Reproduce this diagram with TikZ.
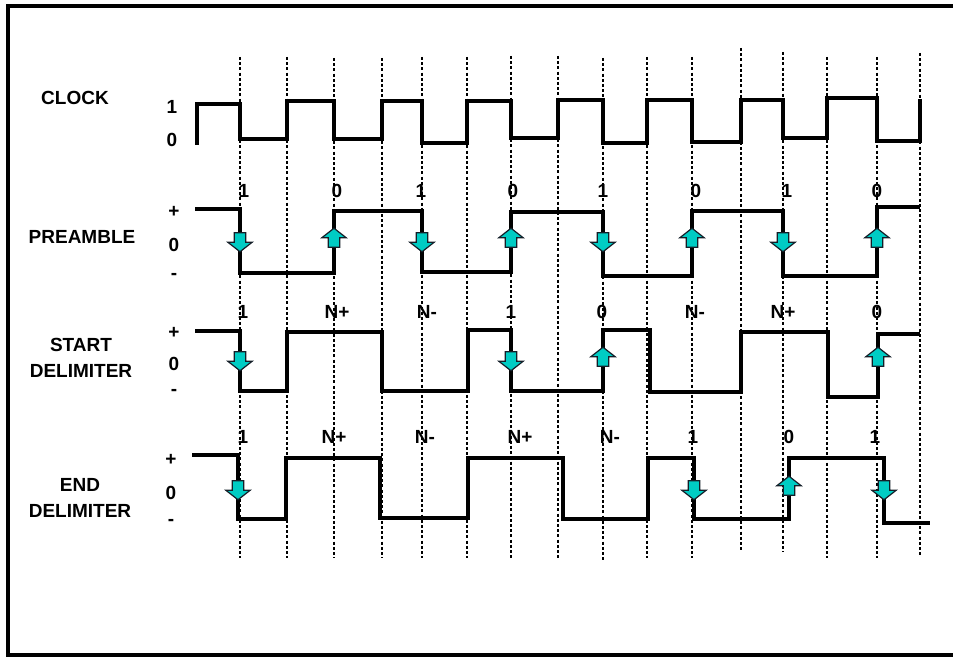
\documentclass[tikz,border=0pt]{standalone}
\usepackage{fontspec}
\setmainfont{Liberation Sans}
\definecolor{arrowteal}{RGB}{0,204,196}
\definecolor{edgegray}{RGB}{20,30,40}
\usetikzlibrary{shapes.arrows}

\begin{document}
\begin{tikzpicture}[x=0.5pt,y=-0.5pt,
    sig/.style={line width=1.8pt, line join=miter},
    tickline/.style={black, line width=0.65pt, dash pattern=on 1.5pt off 1.1pt},
    rowlabel/.style={font=\fontsize{9.5}{13}\selectfont\bfseries, align=center, inner sep=0pt},
    lvl/.style={font=\fontsize{9.5}{11}\selectfont\bfseries, inner sep=0pt},
    bit/.style={font=\fontsize{9.5}{11}\selectfont\bfseries, inner sep=0pt},
    flip/.style={single arrow, draw=edgegray, fill=arrowteal, line width=0.6pt,
        minimum height=9.5pt, minimum width=0pt, inner sep=2.6pt,
        single arrow head extend=3.2pt, single arrow tip angle=104,
        single arrow head indent=0pt}]
\useasboundingbox (0,0) rectangle (953,657);
\draw[line width=1.8pt] (953,6) -- (8,6) -- (8,655) -- (953,655);

% bit cell lines
\foreach \x/\t/\b in {240/57/558, 287/57/558, 334/58/558, 382/58/558, 422/57/558,
    467/57/558, 511/56/558, 558/56/558, 603/58/560, 647/57/558, 692/57/558,
    741/48/550, 783/52/552, 827/57/558, 877/57/558, 920/53/556}
  \draw[tickline] (\x,\t) -- (\x,\b);

% row names and levels
\node[rowlabel] (clock) at (75,98) {CLOCK};
\node[rowlabel] (preamble) at (82,237) {PREAMBLE};
\node[rowlabel] (startdel) at (81,358) {START\\DELIMITER};
\node[rowlabel] (enddel) at (80,498) {END\\DELIMITER};
\node[lvl] (clk1) at (172,107) {1};
\node[lvl] (clk0) at (172,140) {0};
\foreach \y/\s [count=\i] in {212/+, 245/0, 276/-} \node[lvl] (prelvl\i) at (174,\y) {\s};
\foreach \y/\s [count=\i] in {333/+, 364/0, 392/-} \node[lvl] (stlvl\i) at (174,\y) {\s};
\foreach \y/\s [count=\i] in {460/+, 493/0, 522/-} \node[lvl] (endlvl\i) at (171,\y) {\s};

% waveforms
\draw[sig] (197,145) -- (197,104) -- (240,104) -- (240,139) -- (287,139) -- (287,101)
  -- (334,101) -- (334,139) -- (382,139) -- (382,101) -- (422,101) -- (422,143)
  -- (467,143) -- (467,101) -- (511,101) -- (511,138) -- (558,138) -- (558,100)
  -- (603,100) -- (603,143) -- (647,143) -- (647,100) -- (692,100) -- (692,142)
  -- (741,142) -- (741,100) -- (783,100) -- (783,138) -- (827,138) -- (827,98)
  -- (877,98) -- (877,141) -- (920,141) -- (920,99);
\draw[sig] (195,209) -- (240,209) -- (240,273) -- (334,273) -- (334,211) -- (422,211)
  -- (422,272) -- (511,272) -- (511,212) -- (603,212) -- (603,276) -- (692,276)
  -- (692,211) -- (783,211) -- (783,276) -- (877,276) -- (877,207) -- (920,207);
\draw[sig] (195,331) -- (240,331) -- (240,391) -- (287,391) -- (287,332) -- (382,332)
  -- (382,391) -- (468,391) -- (468,330) -- (511,330) -- (511,391) -- (603,391)
  -- (603,330) -- (650,330) -- (650,392) -- (741,392) -- (741,332) -- (828,332)
  -- (828,397) -- (878,397) -- (878,334) -- (920,334);
\draw[sig] (192,455) -- (238,455) -- (238,519) -- (286,519) -- (286,458) -- (380,458)
  -- (380,518) -- (468,518) -- (468,458) -- (563,458) -- (563,519) -- (648,519)
  -- (648,458) -- (694,458) -- (694,519) -- (789,519) -- (789,458) -- (884,458)
  -- (884,523) -- (930,523);

% bit values
\foreach \x/\s in {244/1, 337/0, 421/1, 513/0, 603/1, 696/0, 787/1, 877/0}
  \node[bit] (prebit\x) at (\x,191) {\s};
\foreach \x/\s in {243/1, 337/N+, 427/N-, 511/1, 602/0, 695/N-, 783/N+, 877/0}
  \node[bit] (stbit\x) at (\x,312) {\s};
\foreach \x/\s in {243/1, 334/N+, 425/N-, 520/N+, 610/N-, 693/1, 789/0, 875/1}
  \node[bit] (endbit\x) at (\x,437) {\s};

% transition arrows
\foreach \x/\r in {240/270, 334/90, 422/270, 511/90, 603/270, 692/90, 783/270, 877/90}
  \node[flip, shape border rotate=\r] (prearr\x) at (\x,240) {};
\foreach \x/\r in {240/270, 511/270, 603/90, 878/90}
  \node[flip, shape border rotate=\r] (starr\x) at (\x,359) {};
\foreach \x/\r in {238/270, 694/270, 789/90, 884/270}
  \node[flip, shape border rotate=\r] (endarr\x) at (\x,488) {};
\end{tikzpicture}
\end{document}
